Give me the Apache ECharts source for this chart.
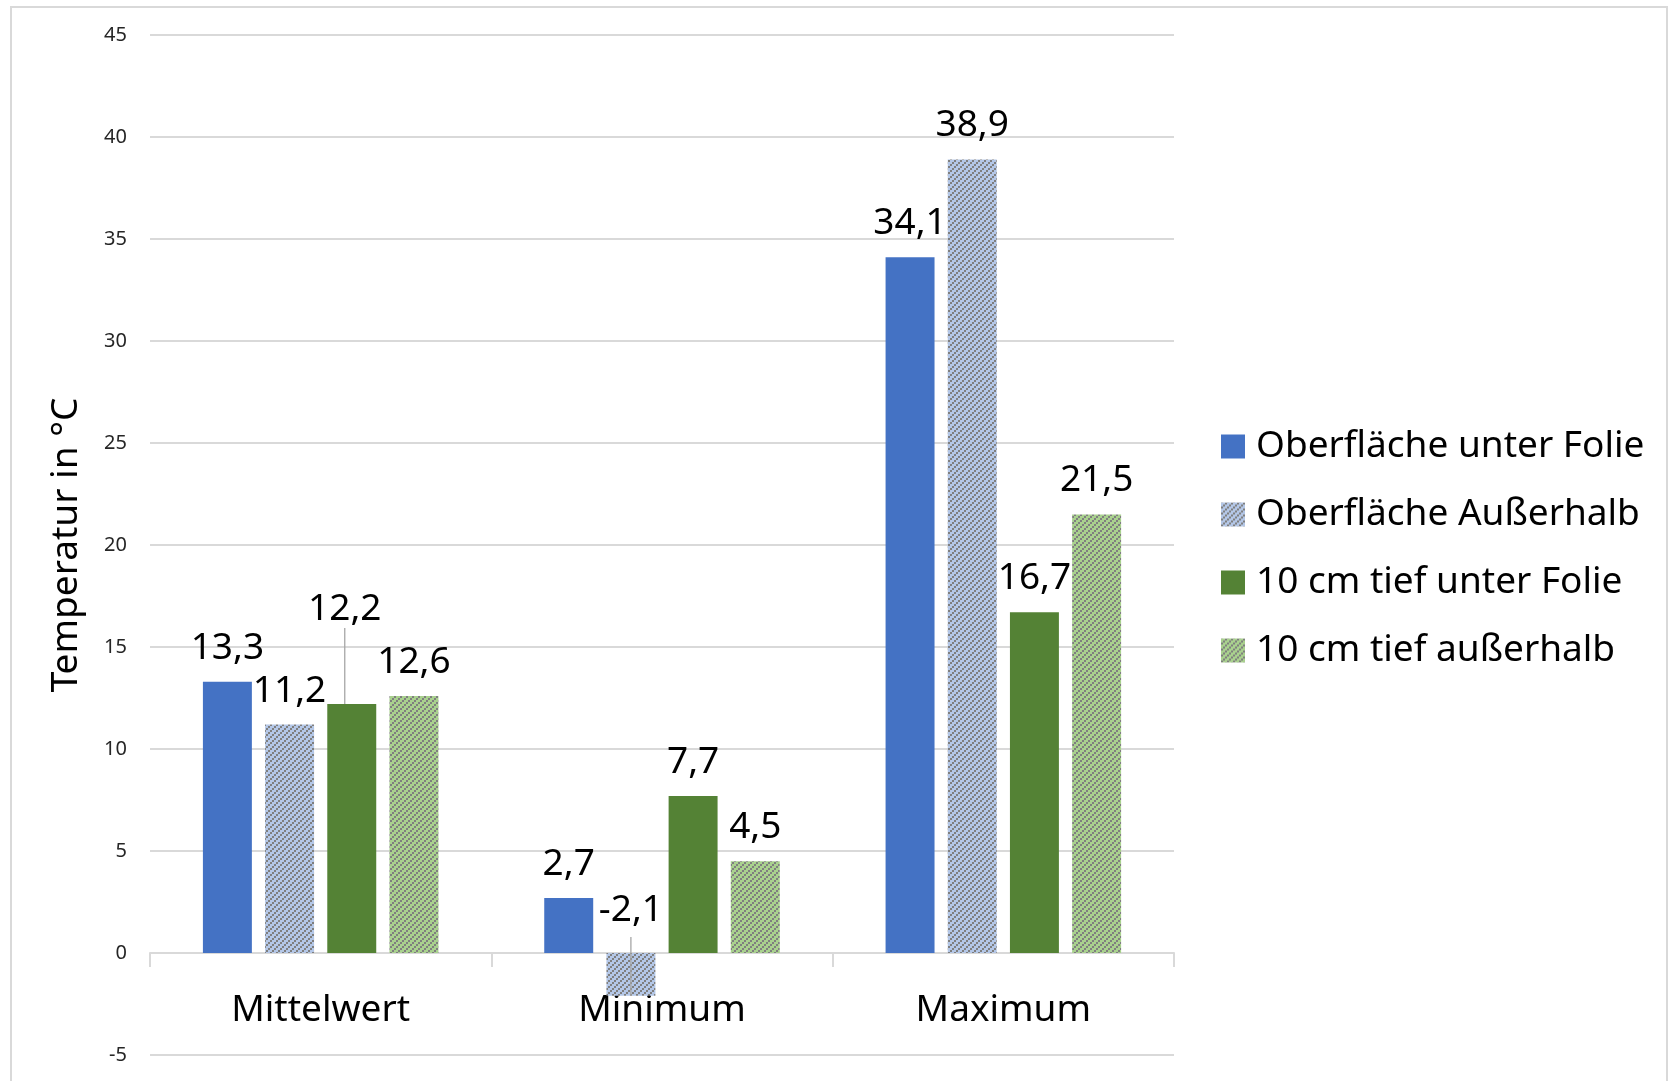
<!DOCTYPE html>
<html>
<head>
<meta charset="utf-8">
<script src="https://cdn.jsdelivr.net/npm/echarts@6/dist/echarts.min.js"></script>
<style>
  html, body { margin: 0; padding: 0; background: #ffffff; overflow: hidden; }
  #chart { width: 1673px; height: 1081px; }
  #frame { position: absolute; left: 10px; top: 6px; width: 1658px; height: 1100px;
           border: 2px solid #d9d9d9; pointer-events: none; box-sizing: border-box; }
</style>
</head>
<body>
<div id="chart"></div>
<div id="frame"></div>
<script>
// Bodentemperaturen: Oberfläche / 10 cm Tiefe, unter Folie und außerhalb
const categories = ['Mittelwert', 'Minimum', 'Maximum'];
const seriesNames = ['Oberfläche unter Folie', 'Oberfläche Außerhalb', '10 cm tief unter Folie', '10 cm tief außerhalb'];
const surfaceUnderFoil = [13.3, 2.7, 34.1];
const surfaceOutside   = [11.2, -2.1, 38.9];
const deepUnderFoil    = [12.2, 7.7, 16.7];
const deepOutside      = [12.6, 4.5, 21.5];
const yMin = -5, yMax = 45, yStep = 5;
const axisTitle = 'Temperatur in °C';

const FONT = 'Noto Sans';
const BIG = 37;

// Diagonal hatch tile: staircase of 2x2 grey blocks running "/"
function hatch(base, stroke) {
  const c = document.createElement('canvas');
  c.width = 6; c.height = 6;
  const g = c.getContext('2d');
  g.fillStyle = base; g.fillRect(0, 0, 6, 6);
  g.fillStyle = stroke;
  g.fillRect(0, 4, 2, 2);
  g.fillRect(2, 2, 2, 2);
  g.fillRect(4, 0, 2, 2);
  return c;
}

const fills = [
  '#4472c4',
  { image: hatch('#b4c7e7', '#7f7f7f'), repeat: 'repeat' },
  '#548235',
  { image: hatch('#a9d18e', '#7f7f7f'), repeat: 'repeat' }
];
const values = [surfaceUnderFoil, surfaceOutside, deepUnderFoil, deepOutside];

// Labels pulled away from their bars
const movedLabels = {
  '2-0': { dx: -7, dy: -61, line: true },
  '1-1': { dx: 0, dy: -9, line: false }
};

const fmt = v => v.toFixed(1).replace('.', ',');

const series = values.map((vals, si) => ({
  name: seriesNames[si],
  type: 'bar',
  barGap: '27%',
  barCategoryGap: '31%',
  itemStyle: { color: fills[si] },
  label: {
    show: true,
    position: 'top',
    distance: 15,
    fontFamily: FONT,
    fontSize: BIG,
    lineHeight: BIG,
    color: '#000000',
    formatter: p => fmt(p.value)
  },
  labelLayout: p => {
    const m = movedLabels[p.seriesIndex + '-' + p.dataIndex];
    return m ? { dx: m.dx, dy: m.dy } : {};
  },
  data: vals.map((v, di) => {
    const m = movedLabels[si + '-' + di];
    if (!m || !m.line) return v;
    return {
      value: v,
      labelLine: { show: true, lineStyle: { color: '#a6a6a6', width: 1.3 } }
    };
  })
}));

const chart = echarts.init(document.getElementById('chart'), null, { renderer: 'canvas' });
chart.setOption({
  animation: false,
  backgroundColor: '#ffffff',
  textStyle: { fontFamily: FONT },
  grid: { left: 150, right: 499, top: 35, bottom: 26, containLabel: false, outerBoundsMode: 'none' },
  legend: {
    orient: 'vertical',
    left: 1216,
    top: 423,
    itemWidth: 24,
    itemHeight: 24,
    itemGap: 31,
    icon: 'rect',
    textStyle: { fontFamily: FONT, fontSize: BIG, lineHeight: BIG, color: '#000000', padding: [0, 0, 0, 6] },
    data: seriesNames
  },
  xAxis: {
    type: 'category',
    data: categories,
    axisLine: { show: true, onZero: true, lineStyle: { color: '#d9d9d9', width: 2 } },
    axisTick: { show: true, length: 14, lineStyle: { color: '#d9d9d9', width: 2 } },
    axisLabel: { fontFamily: FONT, fontSize: BIG, lineHeight: BIG, color: '#000000', margin: 39 },
    splitLine: { show: false }
  },
  yAxis: {
    type: 'value',
    min: yMin,
    max: yMax,
    interval: yStep,
    name: axisTitle,
    nameLocation: 'middle',
    nameGap: 65,
    nameTextStyle: { fontFamily: FONT, fontSize: BIG, color: '#000000' },
    axisLine: { show: false },
    axisTick: { show: false },
    axisLabel: { fontFamily: FONT, fontSize: 20, color: '#262626', margin: 23 },
    splitLine: { lineStyle: { color: '#d9d9d9', width: 2 } }
  },
  series: series
});

// Category labels sit just below the zero line, and the leader line of the
// negative bar runs from its label down to the bar's end.
const zeroY = chart.convertToPixel({ yAxisIndex: 0 }, 0);
const floorY = chart.convertToPixel({ yAxisIndex: 0 }, yMin);
const negBar = chart.getModel().getSeriesByIndex(1).getData().getItemLayout(1);
const negX = negBar.x + negBar.width / 2;
const negEnd = negBar.y + negBar.height;
chart.setOption({
  xAxis: { axisLabel: { margin: 39 - (floorY - zeroY) } },
  graphic: [{
    type: 'line',
    silent: true,
    z: 100,
    shape: { x1: negX, y1: zeroY - 16, x2: negX, y2: negEnd },
    style: { stroke: '#a6a6a6', lineWidth: 1.3 }
  }]
});
</script>
</body>
</html>
